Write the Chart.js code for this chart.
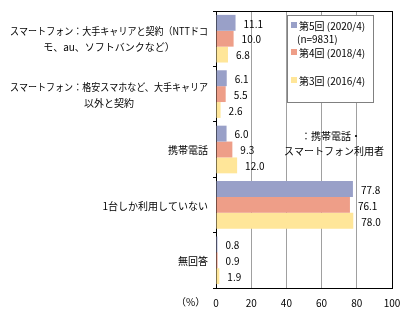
<!DOCTYPE html>
<html>
<head>
<meta charset="utf-8">
<script src="https://cdn.jsdelivr.net/npm/chart.js@4/dist/chart.umd.min.js"></script>
<style>
  body { margin: 0; background: #fff; }
</style>
</head>
<body>
<canvas id="c" width="408" height="324"></canvas>
<script>
// categories (each entry = lines of the label)
const categories = [
    ['スマートフォン：大手キャリアと契約（NTTドコ', 'モ、au、ソフトバンクなど）'],
    ['スマートフォン：格安スマホなど、大手キャリア', '以外と契約'],
    ['携帯電話'],
    ['1台しか利用していない'],
    ['無回答']
];
const seriesNames = ['第5回 (2020/4)', '第4回 (2018/4)', '第3回 (2016/4)'];
const vals2020 = [11.1, 6.1, 6.0, 77.8, 0.8];
const vals2018 = [10.0, 5.5, 9.3, 76.1, 0.9];
const vals2016 = [6.8, 2.6, 12.0, 78.0, 1.9];
const xTicks = [0, 20, 40, 60, 80, 100];

const FONT = '"Noto Sans CJK JP", "Noto Sans", sans-serif';
const colors = ['#99a0c8', '#ee9e88', '#ffe699'];

// value labels, y labels, legend, note, frame
const overlay = {
    id: 'overlay',
    afterDatasetsDraw(chart) {
        const ctx = chart.ctx;
        ctx.save();
        ctx.font = '10px ' + FONT;
        ctx.fillStyle = '#000';
        ctx.textBaseline = 'middle';
        ctx.textAlign = 'left';
        chart.data.datasets.forEach((ds, i) => {
            chart.getDatasetMeta(i).data.forEach((bar, j) => {
                ctx.fillText(ds.data[j].toFixed(1), bar.x + 8, bar.y + 1);
            });
        });
        ctx.restore();
    },
    afterDraw(chart) {
        const ctx = chart.ctx;
        const area = chart.chartArea;
        const yScale = chart.scales.y;
        ctx.save();

        // frame top + right
        ctx.strokeStyle = '#000';
        ctx.lineWidth = 1;
        ctx.beginPath();
        ctx.moveTo(area.left, Math.round(area.top) + 0.5);
        ctx.lineTo(Math.round(area.right) + 0.5, Math.round(area.top) + 0.5);
        ctx.lineTo(Math.round(area.right) + 0.5, area.bottom);
        ctx.stroke();

        // category labels, lines centered within a right-aligned block
        ctx.font = '10px ' + FONT;
        ctx.fillStyle = '#000';
        ctx.textBaseline = 'middle';
        ctx.textAlign = 'center';
        const rightEdge = 208;
        const maxW = 198;
        const lineH = 16;
        categories.forEach((lines, i) => {
            const cy = yScale.getPixelForTick(i);
            const widths = lines.map(l => Math.min(ctx.measureText(l).width, maxW));
            const blockW = Math.max(...widths);
            const cx = rightEdge - blockW / 2;
            lines.forEach((l, k) => {
                const ly = cy + (k - (lines.length - 1) / 2) * lineH + 1;
                ctx.fillText(l, cx, ly, maxW);
            });
        });

        // (%) label
        ctx.textAlign = 'left';
        ctx.fillText('（%）', 176, 302);

        // legend box
        const lx = 287, ly = 15, lw = 86, lh = 87;
        ctx.fillStyle = '#fff';
        ctx.fillRect(lx, ly, lw, lh);
        ctx.strokeStyle = '#808080';
        ctx.strokeRect(lx + 0.5, ly + 0.5, lw, lh);
        const rows = [25, 52, 80];
        chart.data.datasets.forEach((ds, i) => {
            ctx.fillStyle = ds.backgroundColor;
            ctx.fillRect(lx + 4, rows[i] - 3, 6, 6);
            ctx.fillStyle = '#000';
            ctx.fillText(ds.label, lx + 12, rows[i] + 1);
        });
        ctx.fillText('(n=9831)', lx + 10, 39);

        // note
        ctx.textAlign = 'center';
        ctx.fillText('：携帯電話・', 331, 136);
        ctx.fillText('スマートフォン利用者', 334, 151);
        ctx.restore();
    }
};

const datasets = [vals2020, vals2018, vals2016].map((v, i) => ({
    label: seriesNames[i],
    data: v,
    backgroundColor: colors[i],
    borderWidth: 0,
    categoryPercentage: 0.86,
    barPercentage: 1.0
}));

new Chart(document.getElementById('c'), {
    type: 'bar',
    data: {
        labels: categories.map(c => c.join('')),
        datasets: datasets
    },
    options: {
        indexAxis: 'y',
        responsive: false,
        animation: false,
        layout: { padding: { top: 11, right: 0, left: 0, bottom: 0 } },
        plugins: {
            legend: { display: false },
            tooltip: { enabled: false }
        },
        scales: {
            x: {
                min: 0,
                max: 100,
                afterBuildTicks: s => { s.ticks = xTicks.map(v => ({ value: v })); },
                afterFit: s => { s.height = 36; s.paddingRight = 16; s.paddingLeft = 0; },
                border: { color: '#000', width: 1 },
                grid: {
                    drawTicks: false,
                    color: c => c.tick.value === 0 ? 'rgba(0,0,0,0)' : (c.tick.value === 100 ? '#000' : '#a0a0a0')
                },
                ticks: {
                    padding: 9,
                    color: '#000',
                    font: { family: FONT, size: 10 }
                }
            },
            y: {
                afterFit: s => { s.width = 216; },
                border: { color: '#000', width: 1 },
                grid: {
                    offset: true,
                    drawOnChartArea: false,
                    tickLength: 3,
                    color: '#000'
                },
                ticks: { display: false }
            }
        }
    },
    plugins: [overlay]
});
</script>
</body>
</html>
